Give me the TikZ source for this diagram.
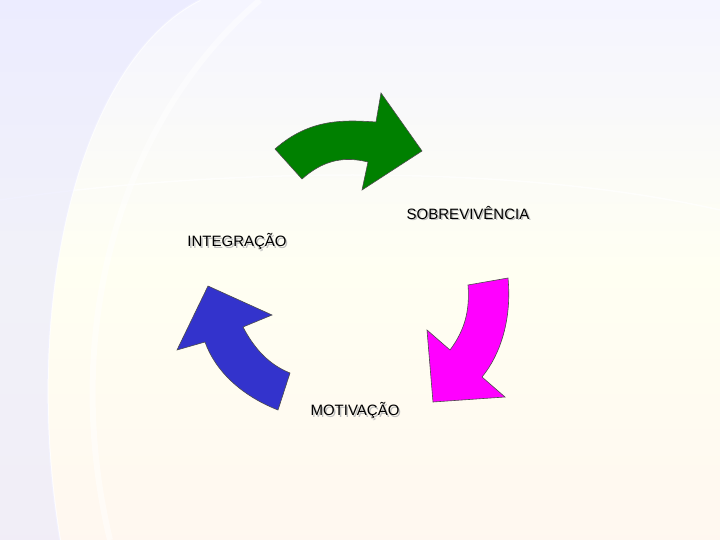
\documentclass[tikz,border=0pt]{standalone}
\usepackage{fontspec}
\setmainfont{Liberation Sans}
\begin{document}
\begin{tikzpicture}[x=1pt,y=-1pt,
  arr/.style={draw=black!70,line width=0.6pt},
  lbl/.style={font=\fontsize{15}{18}\selectfont, text=black},
  shd/.style={lbl, text=black!25, xshift=1.5pt, yshift=-1.5pt}]
\useasboundingbox (0,0) rectangle (720,540);
\shade[top color=blue!4!white, bottom color=orange!6!white, middle color=white!95!yellow] (0,0) rectangle (720,540);
\draw[white, line width=2pt, opacity=0.8] (60,540) .. controls (20,300) and (80,60) .. (200,0);
\draw[white, line width=6pt, opacity=0.5] (110,540) .. controls (60,330) and (120,120) .. (260,0);
\draw[white, line width=1.5pt, opacity=0.7] (0,200) .. controls (200,170) and (500,160) .. (720,210);
\fill[blue!10, opacity=0.5] (0,0) -- (200,0) .. controls (80,60) and (20,300) .. (60,540) -- (0,540) -- cycle;
% green
\filldraw[arr, fill={rgb,255:red,0;green,128;blue,0}] (275,149) .. controls (310,118) and (345,120) .. (376,122)
  -- (381,93) -- (422,151) -- (362,190) -- (368,162) .. controls (340,155) and (320,163) .. (302,179) -- cycle;
% blue
\filldraw[arr, fill={rgb,255:red,51;green,51;blue,204}] (177,350) -- (208,286) -- (272,315) -- (243,327)
  .. controls (255,350) and (270,365) .. (290,373) -- (278,410) .. controls (240,395) and (215,370) .. (205,342) -- cycle;
% magenta
\filldraw[arr, fill={rgb,255:red,255;green,0;blue,255}] (468,285) -- (508,278) .. controls (512,320) and (500,355) .. (482,377)
  -- (505,397) -- (433,402) -- (427,330) -- (450,350) .. controls (465,330) and (470,310) .. (468,285) -- cycle;
\node[shd] at (468,213) {SOBREVIVÊNCIA};
\node[lbl] (s) at (468,213) {SOBREVIVÊNCIA};
\node[shd] at (237,242) {INTEGRAÇÃO};
\node[lbl] (i) at (237,242) {INTEGRAÇÃO};
\node[shd] at (355,411) {MOTIVAÇÃO};
\node[lbl] (m) at (355,411) {MOTIVAÇÃO};
\end{tikzpicture}
\end{document}
